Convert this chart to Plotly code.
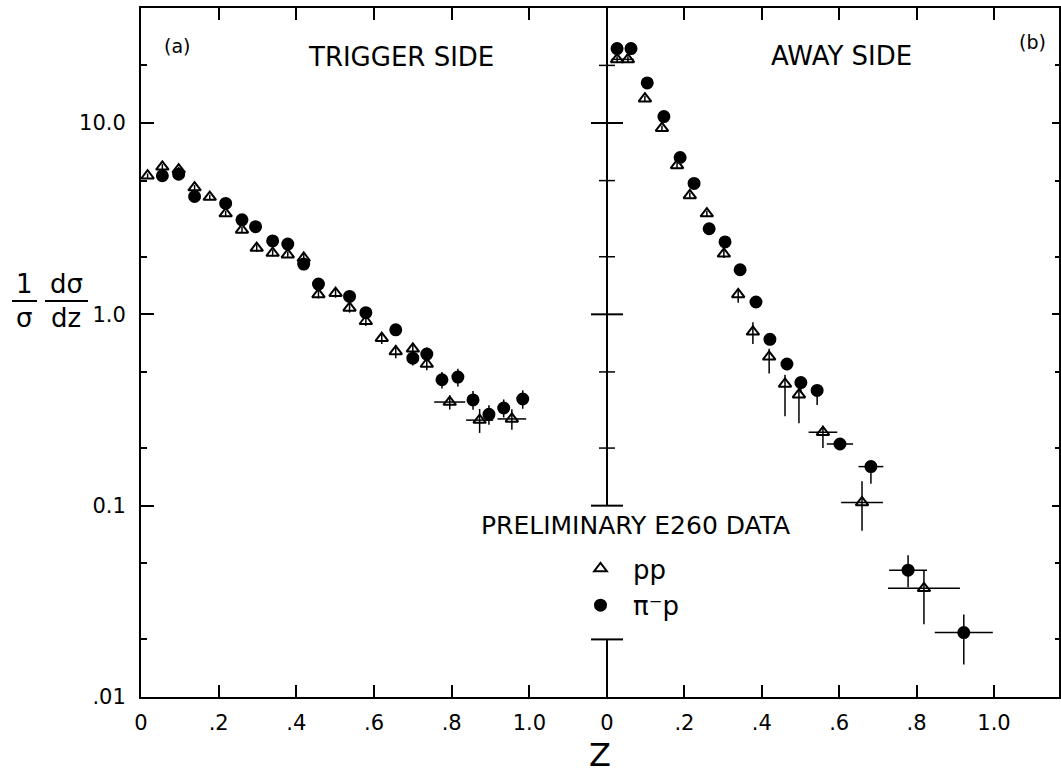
import math
import plotly.graph_objects as go

# ---------------- data ----------------
# (a) TRIGGER SIDE
trig_pp_z = [0.017, 0.055, 0.097, 0.138, 0.177, 0.218, 0.260, 0.298, 0.339, 0.378, 0.419,
             0.457, 0.501, 0.537, 0.579, 0.620, 0.656, 0.700, 0.736, 0.795, 0.872, 0.955]
trig_pp_y = [5.3, 5.9, 5.7, 4.6, 4.1, 3.36, 2.76, 2.22, 2.09, 2.05, 1.97,
             1.27, 1.29, 1.08, 0.92, 0.75, 0.64, 0.66, 0.55, 0.348, 0.28, 0.284]
trig_pp_yerr = [0.15, 0.2, 0.2, 0.15, 0.12, 0.12, 0.1, 0.1, 0.08, 0.08, 0.07,
                0.06, 0.07, 0.06, 0.05, 0.05, 0.05, 0.05, 0.04, 0.03, 0.04, 0.035]
trig_pp_xerr = [0] * 19 + [0.04, 0.035, 0.037]

trig_pi_z = [0.055, 0.097, 0.138, 0.218, 0.260, 0.295, 0.339, 0.378, 0.419, 0.457, 0.537,
             0.579, 0.656, 0.700, 0.736, 0.775, 0.816, 0.855, 0.896, 0.934, 0.983]
trig_pi_y = [5.3, 5.4, 4.13, 3.8, 3.12, 2.87, 2.42, 2.33, 1.83, 1.44, 1.24,
             1.02, 0.83, 0.59, 0.62, 0.455, 0.47, 0.357, 0.30, 0.324, 0.361]
trig_pi_yerr = [0.15, 0.15, 0.12, 0.12, 0.1, 0.09, 0.08, 0.08, 0.07, 0.06, 0.06,
                0.05, 0.05, 0.05, 0.05, 0.045, 0.05, 0.04, 0.035, 0.035, 0.04]

# (b) AWAY SIDE
away_pp_z = [0.026, 0.054, 0.098, 0.142, 0.181, 0.214, 0.258, 0.302, 0.339, 0.377, 0.419,
             0.460, 0.496, 0.558, 0.659, 0.819]
away_pp_y = [21.5, 21.5, 13.4, 9.4, 6.0, 4.18, 3.36, 2.07, 1.27, 0.81, 0.60,
             0.433, 0.38, 0.242, 0.104, 0.037]
away_pp_yerr_up = [0.8, 0.8, 0.5, 0.3, 0.2, 0.15, 0.12, 0.1, 0.08, 0.1, 0.06,
                   0.05, 0.05, 0.02, 0.03, 0.009]
away_pp_yerr_dn = [0.8, 0.8, 0.5, 0.3, 0.2, 0.15, 0.12, 0.1, 0.12, 0.11, 0.11,
                   0.14, 0.11, 0.042, 0.03, 0.013]
away_pp_xerr = [0.015, 0.015] + [0] * 11 + [0.037, 0.054, 0.093]

away_pi_z = [0.026, 0.062, 0.104, 0.147, 0.189, 0.225, 0.264, 0.305, 0.344, 0.385, 0.421,
             0.465, 0.501, 0.543, 0.602, 0.682, 0.778, 0.922]
away_pi_y = [24.5, 24.5, 16.2, 10.8, 6.6, 4.83, 2.80, 2.39, 1.71, 1.16, 0.74,
             0.55, 0.44, 0.40, 0.21, 0.16, 0.046, 0.0217]
away_pi_yerr_up = [0.8, 0.8, 0.5, 0.35, 0.2, 0.15, 0.1, 0.08, 0.06, 0.05, 0.04,
                   0.03, 0.03, 0.02, 0.012, 0.01, 0.009, 0.0053]
away_pi_yerr_dn = [0.8, 0.8, 0.5, 0.35, 0.2, 0.15, 0.1, 0.08, 0.06, 0.05, 0.05,
                   0.04, 0.05, 0.064, 0.012, 0.03, 0.0085, 0.0069]
away_pi_xerr = [0] * 14 + [0.034, 0.032, 0.049, 0.075]

# axis ticks
x_tickvals = [0, 0.2, 0.4, 0.6, 0.8, 1.0]
x_ticktext = ["0", ".2", ".4", ".6", ".8", "1.0"]
y_tickvals = [0.01, 0.1, 1, 10]
y_ticktext = [".01", "0.1", "1.0", "10.0"]
y_minorvals = [0.02, 0.05, 0.2, 0.5, 2, 5, 20]

# ---------------- layout geometry ----------------
W, H = 1061, 776
ML, MR, MT, MB = 141, 2, 8, 79
PW, PH = W - ML - MR, H - MT - MB
SPLIT = (607 - ML) / PW
Y_LOG = [-2.0, 1.601]
FONT = "DejaVu Sans"
INK = "black"


def px_x(px):
    return (px - ML) / PW


def px_y(py):
    return (H - MB - py) / PH


def yfrac(v):
    return (math.log10(v) - Y_LOG[0]) / (Y_LOG[1] - Y_LOG[0])


fig = go.Figure()


def add(z, y, up, dn, xe, sym, xa, ya, name=None, legend=False):
    fig.add_trace(go.Scatter(
        x=z, y=y, mode="markers", name=name, showlegend=legend,
        xaxis=xa, yaxis=ya,
        marker=dict(symbol=sym, size=11, color=INK, line=dict(width=2, color=INK)),
        error_y=dict(type="data", array=up, arrayminus=dn, color=INK, thickness=1.5, width=0),
        error_x=dict(type="data", array=xe, color=INK, thickness=1.5, width=0),
    ))


add(trig_pp_z, trig_pp_y, trig_pp_yerr, trig_pp_yerr, trig_pp_xerr, "triangle-up-open", "x", "y")
add(trig_pi_z, trig_pi_y, trig_pi_yerr, trig_pi_yerr, [0] * len(trig_pi_z), "circle", "x", "y")
add(away_pp_z, away_pp_y, away_pp_yerr_up, away_pp_yerr_dn, away_pp_xerr, "triangle-up-open",
    "x2", "y2", name="pp", legend=True)
add(away_pi_z, away_pi_y, away_pi_yerr_up, away_pi_yerr_dn, away_pi_xerr, "circle",
    "x2", "y2", name="π⁻p", legend=True)

xcommon = dict(showline=True, linewidth=2, linecolor=INK, mirror="ticks", ticks="inside",
               ticklen=12, tickwidth=1.5, tickcolor=INK, tickvals=x_tickvals,
               ticktext=x_ticktext, showgrid=False, zeroline=False,
               tickfont=dict(family=FONT, size=21, color=INK), ticklabelstandoff=6)
ycommon = dict(type="log", range=Y_LOG, showgrid=False, zeroline=False, showline=True,
               linewidth=2, linecolor=INK, tickvals=y_tickvals, tickcolor=INK, tickwidth=1.5)

fig.update_layout(
    width=W, height=H, margin=dict(l=ML, r=MR, t=MT, b=MB),
    paper_bgcolor="white", plot_bgcolor="white",
    xaxis=dict(domain=[0, SPLIT], range=[0, 1.2], anchor="y", **xcommon),
    xaxis2=dict(domain=[SPLIT, 1], range=[0, 1.168], anchor="y2", **xcommon),
    yaxis=dict(anchor="x", ticks="inside", ticklen=13, ticktext=y_ticktext,
               tickfont=dict(family=FONT, size=21, color=INK), ticklabelstandoff=9,
               minor=dict(tickvals=y_minorvals, ticks="inside", ticklen=6, tickcolor=INK,
                          tickwidth=1.5), **ycommon),
    yaxis2=dict(anchor="x2", matches="y", side="right", ticks="inside", ticklen=7,
                showticklabels=False,
                minor=dict(tickvals=y_minorvals, ticks="inside", ticklen=4, tickcolor=INK,
                           tickwidth=1.5), **ycommon),
    showlegend=True,
    legend=dict(x=px_x(568), y=px_y(545), xanchor="left", yanchor="top",
                bgcolor="rgba(0,0,0,0)", font=dict(family=FONT, size=26, color=INK),
                tracegroupgap=12, itemwidth=55),
)

# middle axis (broken around the legend) with crossing ticks, drawn in paper space
shapes = []
gap_top, gap_bot = 0.1, 0.02
mid_line = dict(color=INK, width=2)
shapes.append(dict(type="line", xref="paper", yref="paper", x0=SPLIT, x1=SPLIT,
                   y0=yfrac(gap_top), y1=1, line=mid_line))
shapes.append(dict(type="line", xref="paper", yref="paper", x0=SPLIT, x1=SPLIT,
                   y0=0, y1=yfrac(gap_bot), line=mid_line))
for v in [gap_top, gap_bot] + [t for t in y_tickvals if t > gap_top]:
    shapes.append(dict(type="line", xref="paper", yref="paper",
                       x0=SPLIT - 16 / PW, x1=SPLIT + 16 / PW, y0=yfrac(v), y1=yfrac(v),
                       line=mid_line))
for v in [t for t in y_minorvals if t > gap_top]:
    shapes.append(dict(type="line", xref="paper", yref="paper",
                       x0=SPLIT - 8 / PW, x1=SPLIT + 8 / PW, y0=yfrac(v), y1=yfrac(v),
                       line=dict(color=INK, width=1.5)))
# fraction bars of the y title
shapes.append(dict(type="line", xref="paper", yref="paper", x0=px_x(12), x1=px_x(37),
                   y0=px_y(301), y1=px_y(301), line=dict(color=INK, width=2)))
shapes.append(dict(type="line", xref="paper", yref="paper", x0=px_x(45), x1=px_x(88),
                   y0=px_y(301), y1=px_y(301), line=dict(color=INK, width=2)))
fig.update_layout(shapes=shapes)


def note(text, px, py, size, anchor="center"):
    fig.add_annotation(text=text, xref="paper", yref="paper", x=px_x(px), y=px_y(py),
                       xanchor=anchor, yanchor="middle", showarrow=False,
                       font=dict(family=FONT, size=size, color=INK))


note("TRIGGER SIDE", 401, 57, 26)
note("AWAY SIDE", 841, 56, 26)
note("(a)", 177, 46, 19)
note("(b)", 1032, 42, 19)
note("PRELIMINARY E260 DATA", 635, 525, 25)
note("Z", 600, 755, 32)
note("1", 24, 284, 26)
note("dσ", 66, 284, 26)
note("σ", 24, 318, 26)
note("dz", 66, 318, 26)

fig.write_html("out.html")
